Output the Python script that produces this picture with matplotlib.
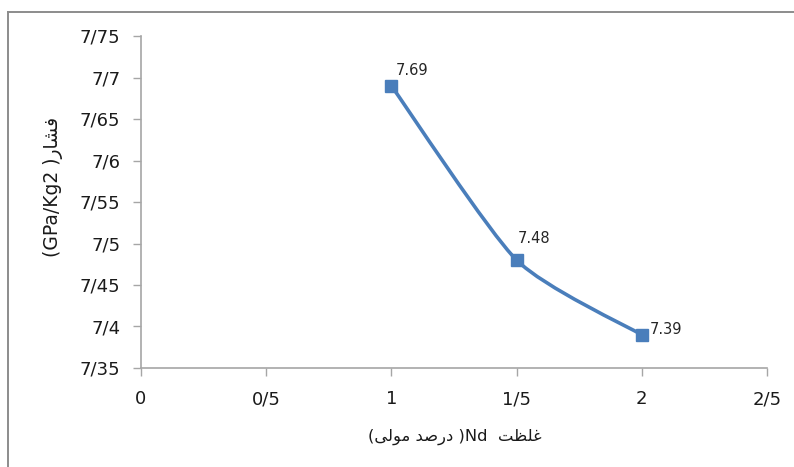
import unicodedata
import numpy as np
import matplotlib
matplotlib.use("Agg")
import matplotlib.pyplot as plt
from matplotlib.path import Path
from matplotlib.patches import PathPatch
from matplotlib.lines import Line2D

# data
nd_conc = [1.0, 1.5, 2.0]
pressure = [7.69, 7.48, 7.39]
point_labels = ["7.69", "7.48", "7.39"]

x_ticks = [0, 0.5, 1, 1.5, 2, 2.5]
x_tick_labels = ["0", "0/5", "1", "1/5", "2", "2/5"]
y_ticks = [7.35, 7.40, 7.45, 7.50, 7.55, 7.60, 7.65, 7.70, 7.75]
y_tick_labels = ["7/35", "7/4", "7/45", "7/5", "7/55", "7/6", "7/65", "7/7", "7/75"]

x_title_fa = "غلظت"
x_title_unit = "درصد مولی"
y_title_fa = "فشار"
y_title_unit = "GPa/Kg2"

BLUE = "#4A7EBB"
GREY = "#A6A6A6"

RIGHT_ONLY = set("اآأإدذرزژو")


def is_arabic(c):
    return "\u0600" <= c <= "\u06FF"


def shape(text):
    # matplotlib has no arabic shaping, pick contextual forms and reverse
    out = []
    n = len(text)
    for i, ch in enumerate(text):
        if not is_arabic(ch):
            out.append(ch)
            continue
        prev_j = i > 0 and is_arabic(text[i - 1]) and text[i - 1] not in RIGHT_ONLY
        next_j = i < n - 1 and is_arabic(text[i + 1]) and ch not in RIGHT_ONLY
        if prev_j and next_j:
            form = "MEDIAL"
        elif prev_j:
            form = "FINAL"
        elif next_j:
            form = "INITIAL"
        else:
            form = "ISOLATED"
        try:
            out.append(unicodedata.lookup(unicodedata.name(ch) + " " + form + " FORM"))
        except KeyError:
            out.append(ch)
    return "".join(reversed(out))


plt.rcParams["font.family"] = ["DejaVu Sans"]

fig = plt.figure(figsize=(7.94, 4.67), dpi=100)
W, H = 794, 467
ax = fig.add_axes([141 / W, 1 - 368 / H, (767 - 141) / W, (368 - 36) / H])

# smoothed line like excel (low tension bezier)
pts = np.column_stack([nd_conc, pressure])
verts = [tuple(pts[0])]
codes = [Path.MOVETO]
k = 1 / 9
for i in range(len(pts) - 1):
    p0 = pts[max(i - 1, 0)]
    p1 = pts[i]
    p2 = pts[i + 1]
    p3 = pts[min(i + 2, len(pts) - 1)]
    c1 = p1 + (p2 - p0) * k
    c2 = p2 - (p3 - p1) * k
    verts += [tuple(c1), tuple(c2), tuple(p2)]
    codes += [Path.CURVE4] * 3
ax.add_patch(PathPatch(Path(verts, codes), fill=False, edgecolor=BLUE,
                       lw=2.6, capstyle="round", joinstyle="round", zorder=2))
ax.plot(nd_conc, pressure, linestyle="none", marker="s", markersize=8.5,
        color=BLUE, zorder=3)

offsets = [(4, 15), (1, 22), (8, 5)]
for x, y, lab, off in zip(nd_conc, pressure, point_labels, offsets):
    ax.annotate(lab, (x, y), xytext=off, textcoords="offset pixels",
                ha="left", va="center", fontsize=10.5, color="#262626")

ax.set_xlim(0, 2.5)
ax.set_ylim(7.35, 7.75)
ax.set_xticks(x_ticks)
ax.set_xticklabels(x_tick_labels)
ax.set_yticks(y_ticks)
ax.set_yticklabels(y_tick_labels)
ax.tick_params(axis="both", direction="out", length=6, width=1, color=GREY,
               labelsize=13, labelcolor="#1a1a1a")
ax.tick_params(axis="y", pad=9)
ax.tick_params(axis="x", pad=10)
for s in ["top", "right"]:
    ax.spines[s].set_visible(False)
for s in ["left", "bottom"]:
    ax.spines[s].set_color(GREY)
    ax.spines[s].set_linewidth(1.2)

# axis titles (visual order for right-to-left text)
xlabel = "(" + shape(x_title_unit) + " )Nd  " + shape(x_title_fa)
fig.text(455 / W, 1 - 437 / H, xlabel, ha="center", va="center",
         fontsize=11.8, color="#1a1a1a")
ylabel = "(" + y_title_unit + " )" + shape(y_title_fa)
fig.text(53 / W, 1 - 187 / H, ylabel, ha="center", va="center",
         rotation=90, fontsize=13.5, color="#1a1a1a")

# chart area border
fig.add_artist(Line2D([8 / W, 1], [1 - 12 / H, 1 - 12 / H], color="#8C8C8C", lw=1.4))
fig.add_artist(Line2D([8 / W, 8 / W], [0, 1 - 12 / H], color="#8C8C8C", lw=1.4))

fig.savefig("out.png", dpi=100)
